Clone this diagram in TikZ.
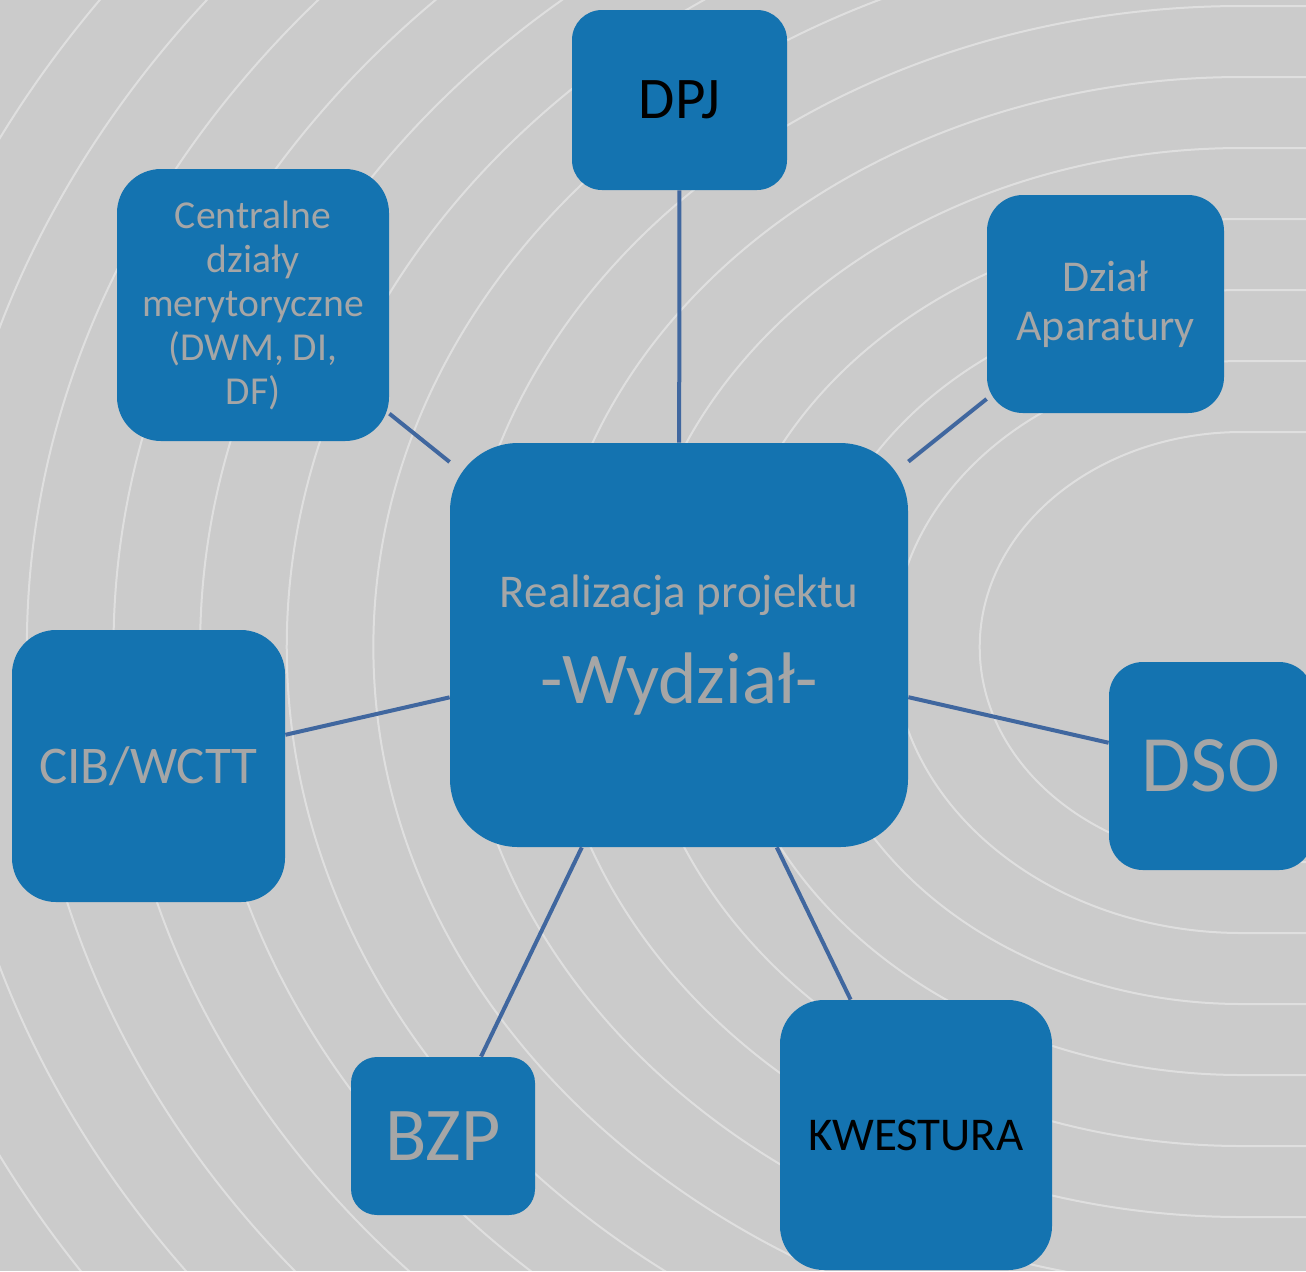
\documentclass[tikz,border=0pt]{standalone}
\usepackage{fontspec}
\setmainfont{Carlito}
\usepackage{xcolor}
\usepackage{tikz}
\usetikzlibrary{calc}

\definecolor{bggrey}{RGB}{203,203,203}
\definecolor{boxblue}{RGB}{20,115,176}
\definecolor{labelgrey}{RGB}{166,166,166}
\definecolor{linkblue}{RGB}{64,103,159}

\begin{document}
\begin{tikzpicture}[x=0.5pt,y=-0.5pt]
% 1 = 1px of the slide
    \def\WIDTH{1306}
    \def\HEIGHT{1271}
    \def\RINGX{1242} %centre of the rings
    \def\RINGY{647}

    \tikzset{
      unit/.style={fill=boxblue, rounded corners=#1, inner sep=0pt,
        align=center, text=labelgrey},
      link/.style={draw=linkblue, line width=2pt},
      ring/.style={draw=white, opacity=0.4, line width=1pt},
    }

    \useasboundingbox (0,0) rectangle (\WIDTH,\HEIGHT);
    \fill[bggrey] (0,0) rectangle (\WIDTH,\HEIGHT);

    % BACKGROUND RINGS
    \begin{scope}
      \clip (0,0) rectangle (\WIDTH,\HEIGHT);
      \foreach \k in {0,...,16}{
        \pgfmathsetmacro\rb{215+71*\k}
        \pgfmathsetmacro\rx{0.5*1.22*\rb}
        \pgfmathsetmacro\ry{0.5*\rb}
        \draw[ring] (1330,{\RINGY-\rb}) -- (\RINGX,{\RINGY-\rb})
            arc[start angle=90, end angle=270, x radius=\rx pt, y radius=\ry pt]
            -- (1330,{\RINGY+\rb});
      }
    \end{scope}

    % CENTRAL BOX
    \node[unit=34pt, minimum width=229pt, minimum height=202pt] (wydz) at (679,645)
        {{\fontsize{23.5}{28}\selectfont Realizacja projektu}\\[18pt]
         {\fontsize{36.5}{40}\selectfont -Wydział-}};

    % OUTER BOXES
    \node[unit=15pt, minimum width=107.5pt, minimum height=90pt, text=black,
        font=\fontsize{29.5}{34}\selectfont] (dpj) at (679.5,100) {DPJ};
    \node[unit=22pt, minimum width=136pt, minimum height=136pt,
        font=\fontsize{19.8}{22}\selectfont] (cdm) at (253,305)
        {Centralne\\działy\\merytoryczne\\(DWM, DI,\\DF)};
    \node[unit=18pt, minimum width=118.5pt, minimum height=109pt,
        font=\fontsize{22}{24.5}\selectfont] (apar) at (1105.5,304)
        {Dział\\Aparatury};
    \node[unit=22pt, minimum width=136.5pt, minimum height=136pt,
        font=\fontsize{26.5}{30}\selectfont] (cib) at (148.5,766) {CIB/WCTT};
    \node[unit=17pt, minimum width=102pt, minimum height=104pt,
        font=\fontsize{40}{46}\selectfont] (dso) at (1211,766) {DSO};
    \node[unit=13pt, minimum width=92pt, minimum height=79pt,
        font=\fontsize{38}{44}\selectfont] (bzp) at (443,1136) {BZP};
    \node[unit=22pt, minimum width=136pt, minimum height=135pt, text=black,
        font=\fontsize{23.5}{28}\selectfont] (kwe) at (916,1135) {KWESTURA};

    % CONNECTORS
    \foreach \n in {dpj,cdm,apar,cib,dso,bzp,kwe}
        \draw[link] (wydz) -- (\n);

\end{tikzpicture}
\end{document}
